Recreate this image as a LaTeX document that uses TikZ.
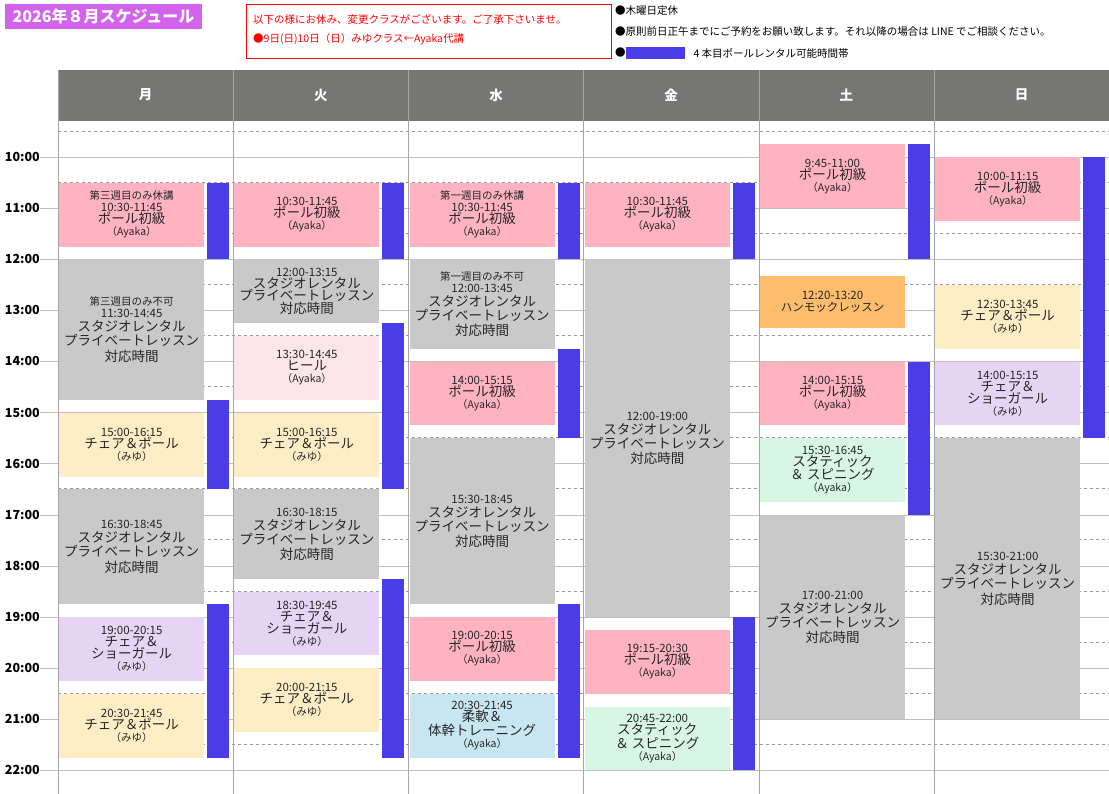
\documentclass[tikz,border=0pt]{standalone}
\usepackage{fontspec}
\setmainfont{Noto Sans CJK JP}
\usetikzlibrary{positioning}
\definecolor{pinkc}{HTML}{FFB3C1}
\definecolor{grayc}{HTML}{C9C9C9}
\definecolor{yellowc}{HTML}{FFEDC6}
\definecolor{purplec}{HTML}{E6D4F4}
\definecolor{lpinkc}{HTML}{FDE6EA}
\definecolor{lbluec}{HTML}{C8E6F1}
\definecolor{greenc}{HTML}{D8F6E6}
\definecolor{orangec}{HTML}{FDBD6D}
\definecolor{barc}{HTML}{4A3DE8}
\definecolor{headc}{HTML}{767775}
\definecolor{titlec}{HTML}{D363EC}
\newcommand\fa{\fontsize{10.5}{13}\selectfont}
\newcommand\fb{\fontsize{11.5}{14}\selectfont}
\newcommand\fc{\fontsize{13.5}{17}\selectfont}
\newcommand\pole[1]{{\fa #1}{\fb #1}}
\newcommand\shoki[2]{#1{\fb #2}\\{\fc ポール初級}\\{\fa （Ayaka）}}
\newcommand\rental[2]{#1{\fb #2}\\[2pt]{\fc スタジオレンタル}\\[2pt]{\fc プライベートレッスン}\\[2pt]{\fc 対応時間}}
\newcommand\chair[2]{{\fb #1}\\{\fc #2}\\{\fa （みゆ）}}
% name, column, start, end, colour, text
\newcommand\slot[6]{%
  \pgfmathsetmacro\xl{58+175.2*#2+1}
  \pgfmathsetmacro\yt{157+(#3-10)*51.1}
  \pgfmathsetmacro\hh{(#4-#3)*51.1}
  \node[slot,fill=#5,minimum height=\hh pt] (#1) at (\xl,\yt) {#6};}
% name, column, start, end
\newcommand\polebar[4]{%
  \pgfmathsetmacro\xl{58+175.2*#2+149}
  \pgfmathsetmacro\yt{157+(#3-10)*51.1}
  \pgfmathsetmacro\hh{(#4-#3)*51.1}
  \node[bar,minimum height=\hh pt] (#1) at (\xl,\yt) {};}
\tikzset{
  slot/.style={anchor=north west,minimum width=145pt,inner sep=0pt,align=center,text=black!85},
  bar/.style={anchor=north west,minimum width=22pt,inner sep=0pt,fill=barc},
  day/.style={text=white,font=\fc\bfseries},
  hour/.style={anchor=east,font=\fontsize{12.5}{14}\selectfont\bfseries,inner sep=1pt},
  note/.style={anchor=west,font=\fa,inner sep=0pt}
}
\begin{document}
\begin{tikzpicture}[x=1pt,y=-1pt]
\useasboundingbox (0,0) rectangle (1109,794);
% title and notes
\node[fill=titlec,text=white,font=\fontsize{16}{18}\selectfont\bfseries,minimum width=197pt,minimum height=25pt,inner sep=0pt] (title) at (103.5,16.5) {2026年８月スケジュール};
\node[draw=red,line width=1.3pt,minimum width=365pt,minimum height=54pt,inner sep=0pt] (redbox) at (429,31.5) {};
\node[note,text=red] (red1) at (253,19) {以下の様にお休み、変更クラスがございます。ご了承下さいませ。};
\node[note,text=red] (red2) at (253,39) {●9日(日)10日（日）みゆクラス←Ayaka代講};
\node[note] (n1) at (615,11) {●木曜日定休};
\node[note] (n2) at (615,32) {●原則前日正午までにご予約をお願い致します。それ以降の場合は LINE でご相談ください。};
\node[note] (n3) at (615,53) {●};
\node[fill=barc,minimum width=59pt,minimum height=12pt,inner sep=0pt,right=0pt of n3] (legend) {};
\node[note,right=8pt of legend] (n4) {4 本目ポールレンタル可能時間帯};
% grid
\fill[headc] (58,70) rectangle (1109,121);
\foreach \d [count=\i from 0] in {月,火,水,金,土,日}
  \node[day] (d\i) at (58+175.2*\i+87.6,95) {\d};
\foreach \h in {10,...,22} {
  \draw[black!25] (40,157+51.1*\h-511) -- (1109,157+51.1*\h-511);
  \node[hour] (h\h) at (41,157+51.1*\h-511) {\h:00};
}
\foreach \h in {9,...,22}
  \draw[black!40,dashed,line width=0.8pt] (58,131+51.1*\h-459.9) -- (1109,131+51.1*\h-459.9);
\foreach \i in {0,...,5}
  \draw[black!35] (58+175.2*\i,70) -- (58+175.2*\i,794);
% mon
\slot{m1}{0}{10.5}{11.75}{pinkc}{\shoki{{\fa 第三週目のみ休講}\\}{10:30-11:45}}
\slot{m2}{0}{12}{14.75}{grayc}{\rental{{\fa 第三週目のみ不可}\\}{11:30-14:45}}
\slot{m3}{0}{15}{16.25}{yellowc}{\chair{15:00-16:15}{チェア＆ポール}}
\slot{m4}{0}{16.5}{18.75}{grayc}{\rental{}{16:30-18:45}}
\slot{m5}{0}{19}{20.25}{purplec}{{\fb 19:00-20:15}\\{\fc チェア＆}\\{\fc ショーガール}\\{\fa （みゆ）}}
\slot{m6}{0}{20.5}{21.75}{yellowc}{\chair{20:30-21:45}{チェア＆ポール}}
\polebar{mb1}{0}{10.5}{12}
\polebar{mb2}{0}{14.75}{16.5}
\polebar{mb3}{0}{18.75}{21.75}
% tue
\slot{t1}{1}{10.5}{11.75}{pinkc}{\shoki{}{10:30-11:45}}
\slot{t2}{1}{12}{13.25}{grayc}{{\fb 12:00-13:15}\\{\fc スタジオレンタル}\\{\fc プライベートレッスン}\\{\fc 対応時間}}
\slot{t3}{1}{13.5}{14.75}{lpinkc}{{\fb 13:30-14:45}\\{\fc ヒール}\\{\fa （Ayaka）}}
\slot{t4}{1}{15}{16.25}{yellowc}{\chair{15:00-16:15}{チェア＆ポール}}
\slot{t5}{1}{16.5}{18.25}{grayc}{\rental{}{16:30-18:15}}
\slot{t6}{1}{18.5}{19.75}{purplec}{{\fb 18:30-19:45}\\{\fc チェア＆}\\{\fc ショーガール}\\{\fa （みゆ）}}
\slot{t7}{1}{20}{21.25}{yellowc}{\chair{20:00-21:15}{チェア＆ポール}}
\polebar{tb1}{1}{10.5}{12}
\polebar{tb2}{1}{13.25}{16.5}
\polebar{tb3}{1}{18.25}{21.75}
% wed
\slot{w1}{2}{10.5}{11.75}{pinkc}{\shoki{{\fa 第一週目のみ休講}\\}{10:30-11:45}}
\slot{w2}{2}{12}{13.75}{grayc}{\rental{{\fa 第一週目のみ不可}\\}{12:00-13:45}}
\slot{w3}{2}{14}{15.25}{pinkc}{\shoki{}{14:00-15:15}}
\slot{w4}{2}{15.5}{18.75}{grayc}{\rental{}{15:30-18:45}}
\slot{w5}{2}{19}{20.25}{pinkc}{\shoki{}{19:00-20:15}}
\slot{w6}{2}{20.5}{21.75}{lbluec}{{\fb 20:30-21:45}\\{\fc 柔軟＆}\\{\fc 体幹トレーニング}\\{\fa （Ayaka）}}
\polebar{wb1}{2}{10.5}{12}
\polebar{wb2}{2}{13.75}{15.5}
\polebar{wb3}{2}{18.75}{21.75}
% fri
\slot{f1}{3}{10.5}{11.75}{pinkc}{\shoki{}{10:30-11:45}}
\slot{f2}{3}{12}{19}{grayc}{\rental{}{12:00-19:00}}
\slot{f3}{3}{19.25}{20.5}{pinkc}{\shoki{}{19:15-20:30}}
\slot{f4}{3}{20.75}{22}{greenc}{{\fb 20:45-22:00}\\{\fc スタティック}\\{\fc ＆ スピニング}\\{\fa （Ayaka）}}
\polebar{fb1}{3}{10.5}{12}
\polebar{fb2}{3}{19}{22}
% sat
\slot{s1}{4}{9.75}{11}{pinkc}{\shoki{}{9:45-11:00}}
\slot{s2}{4}{12.333}{13.333}{orangec}{{\fb 12:20-13:20}\\{\fb ハンモックレッスン}}
\slot{s3}{4}{14}{15.25}{pinkc}{\shoki{}{14:00-15:15}}
\slot{s4}{4}{15.5}{16.75}{greenc}{{\fb 15:30-16:45}\\{\fc スタティック}\\{\fc ＆ スピニング}\\{\fa （Ayaka）}}
\slot{s5}{4}{17}{21}{grayc}{\rental{}{17:00-21:00}}
\polebar{sb1}{4}{9.75}{12}
\polebar{sb2}{4}{14}{17}
% sun
\slot{u1}{5}{10}{11.25}{pinkc}{\shoki{}{10:00-11:15}}
\slot{u2}{5}{12.5}{13.75}{yellowc}{\chair{12:30-13:45}{チェア＆ポール}}
\slot{u3}{5}{14}{15.25}{purplec}{{\fb 14:00-15:15}\\{\fc チェア＆}\\{\fc ショーガール}\\{\fa （みゆ）}}
\slot{u4}{5}{15.5}{21}{grayc}{\rental{}{15:30-21:00}}
\polebar{ub1}{5}{10}{15.5}
\end{tikzpicture}
\end{document}
